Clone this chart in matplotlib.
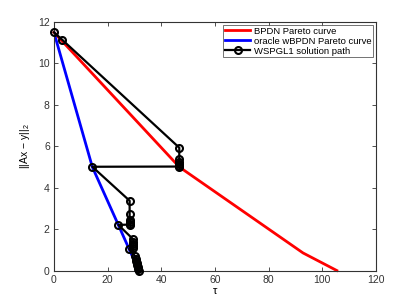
import matplotlib

matplotlib.use("Agg")
import matplotlib.pyplot as plt

plt.rcParams["font.family"] = ["Liberation Sans", "DejaVu Sans"]
plt.rcParams["mathtext.fontset"] = "custom"
plt.rcParams["mathtext.rm"] = "Liberation Sans"

# BPDN Pareto curve
bpdn_tau = [0, 46.7, 92.8, 105.4]
bpdn_res = [11.5, 5.0, 0.85, 0.0]

# oracle weighted BPDN Pareto curve
wbpdn_tau = [0, 14.3, 24.0, 28.0, 31.6]
wbpdn_res = [11.5, 5.0, 2.2, 1.04, 0.0]

# WSPGL1 iterates
path_tau = [0, 3.0, 46.7, 46.7, 46.7, 46.7, 46.7, 46.7, 14.3,
            28.2, 28.2, 28.2, 28.2, 28.2, 28.2, 24.0,
            29.6, 29.6, 29.6, 29.6, 29.6, 28.0,
            30.2, 30.4, 30.6, 30.8, 31.0, 31.2, 31.5, 31.8]
path_res = [11.5, 11.15, 5.93, 5.37, 5.25, 5.15, 5.07, 5.02, 5.01,
            3.37, 2.71, 2.45, 2.35, 2.27, 2.22, 2.2,
            1.5, 1.4, 1.3, 1.2, 1.1, 1.04,
            0.7, 0.55, 0.45, 0.35, 0.25, 0.15, 0.07, 0.0]

fig = plt.figure(figsize=(4.15, 3.05), dpi=100)
ax = fig.add_axes([0.130, 0.113, 0.776, 0.815])

ax.plot(bpdn_tau, bpdn_res, color="red", lw=2, label="BPDN Pareto curve", clip_on=False)
ax.plot(wbpdn_tau, wbpdn_res, color="blue", lw=2, label="oracle wBPDN Pareto curve")
ax.plot(path_tau, path_res, color="black", lw=1.6, marker="o", ms=5,
        mfc="none", mew=1.5, label="WSPGL1 solution path", clip_on=False, zorder=3)

ax.set_xlim(0, 120)
ax.set_ylim(0, 12)
ax.set_xticks(range(0, 121, 20))
ax.set_yticks(range(0, 13, 2))
ax.tick_params(direction="in", top=True, right=True, labelsize=7.5, length=3,
               width=0.6, colors="#333333", pad=3)
for s in ax.spines.values():
    s.set_linewidth(0.8)
    s.set_color("#333333")

ax.set_xlabel("τ", fontsize=8, labelpad=1)
ax.set_ylabel(r"||Ax − y||$_{\mathrm{2}}$", fontsize=7.5, labelpad=4)

leg = ax.legend(loc="upper right", fontsize=6.8, frameon=True, fancybox=False,
                edgecolor="#333333", borderpad=0.2, labelspacing=0.1,
                handlelength=2.6, handletextpad=0.4, borderaxespad=0.3)
leg.get_frame().set_linewidth(0.6)

fig.savefig("out.png", dpi=100)
